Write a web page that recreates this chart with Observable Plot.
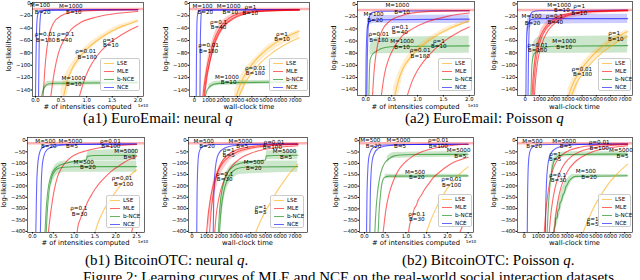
<!DOCTYPE html>
<html><head><meta charset="utf-8">
<script src="https://cdn.jsdelivr.net/npm/d3@7"></script>
<script src="https://cdn.jsdelivr.net/npm/@observablehq/plot@0.6"></script>
<style>
body{margin:0;background:#fff;}
#fig{position:relative;width:640px;height:280px;overflow:hidden;background:#fff;}
.ax{position:absolute;font-family:"DejaVu Sans";font-size:6.8px;white-space:nowrap;color:#000;transform:translate(-50%,-50%);}
.axy{transform:translate(-50%,-50%) rotate(-90deg);}
.exp{position:absolute;font-family:"DejaVu Sans";font-size:4.2px;white-space:nowrap;color:#000;transform:translate(-50%,-50%);}
.cap{position:absolute;font-family:"Liberation Serif";font-size:15px;line-height:15px;white-space:nowrap;color:#000;}
.leg{position:absolute;border:0.6px solid #ccc;border-radius:2px;background:rgba(255,255,255,0.8);box-sizing:border-box;padding-top:0.3px;}
.leg div{height:8px;position:relative;}
.leg .sw{position:absolute;left:2.5px;top:3.4px;width:10px;height:1.3px;}
.leg .tx{position:absolute;left:16px;top:0;font-family:"DejaVu Sans";font-size:5.6px;line-height:8px;white-space:nowrap;}
</style></head><body><div id="fig"></div>
<script>
// ---------------- data ----------------
const methods = ["LSE", "MLE", "b-NCE", "NCE"];
const methodColors = ["#ffa500", "#ff0000", "#008000", "#0000ff"];
const countTicksTop = [0, 0.5, 1, 1.5, 2];
const countTicksBottom = [0, 0.5, 1, 1.5, 2, 2.5];
const timeTicks = [0, 1000, 2000, 3000, 4000, 5000, 6000, 7000];
const yTicksTop = [0, -20, -40, -60, -80, -100, -120, -140];
const yTicksBottom = [0, -50, -100, -150, -200, -250, -300, -350, -400];
const yLabel = "log-likelihood";
const xLabels = ["# of intensities computed", "wall-clock time"];
const expLabel = "1e10";
const captions = ["(a1) EuroEmail: neural <i>q</i>", "(a2) EuroEmail: Poisson <i>q</i>", "(b1) BitcoinOTC: neural <i>q</i>.", "(b2) BitcoinOTC: Poisson <i>q</i>."];
const figCaption = "Figure 2: Learning curves of MLE and NCE on the real-world social interaction datasets.";

// curves: [method, id, xs, ys]; bands: [method, id, xs, lo, hi]; labels: [text, x, y]
const a1Count = [
 ["ref","r",[-0.06,2.11],[-9,-9]],
 ["NCE","a",[0.0,0.01,0.02,0.04,0.08,0.3,2.0],[-150,-90,-45,-20,-12,-10.5,-10]],
 ["NCE","b",[0.06,0.07,0.085,0.11,0.2,2.0],[-150,-80,-35,-15,-11,-10]],
 ["MLE","a",[0.15,0.18,0.22,0.27,0.35,0.5,0.8,1.3,2.0],[-150,-110,-75,-50,-32,-20,-13,-11,-10]],
 ["MLE","b",[0.3,0.37,0.45,0.55,0.7,0.9,1.2,1.6,2.0],[-150,-110,-80,-60,-42,-30,-22,-16,-13]],
 ["MLE","c",[0.86,0.95,1.05,1.2,1.4,1.6,1.8,2.0],[-150,-125,-105,-85,-67,-55,-45,-37]],
 ["LSE","a",[0.55,0.62,0.72,0.85,1.0,1.2,1.4,1.6,1.8,2.0],[-150,-125,-105,-88,-74,-60,-49,-40,-34,-28]],
 ["b-NCE","a",[0.12,0.15,0.2,0.27,0.4,2.0],[-150,-140,-133,-130,-129,-128]]
];
const a1CountBand = [
 ["LSE","a",[0.5,0.6,0.7,0.85,1.0,1.2,1.4,1.6,1.8,2.0],[-150,-150,-118,-96,-80,-65,-53,-44,-37,-31],[-138,-112,-98,-80,-68,-55,-45,-36,-31,-25]],
 ["b-NCE","a",[0.15,0.25,2.0],[-145,-134,-131],[-135,-126,-125]]
];
const a1CountLabels = [
 ["M=100",0.09,-3],["B=20",0.14,-14],["M=1000",0.69,-3.7],["B=10",0.75,-14],
 ["ρ=0.01",0.19,-50],["B=180",0.2,-59],["ρ=0.1",0.59,-50],["B=40",0.56,-59],
 ["ρ=0.01",0.98,-77],["B=180",1.01,-87],["ρ=1",1.43,-59],["B=10",1.47,-68],
 ["M=1000",0.74,-121],["B=10",0.75,-130]
];

const a1Time = [
 ["ref","r",[-350,8020],[-9,-9]],
 ["NCE","a",[120,135,160,200,300,600,7300],[-150,-90,-40,-20,-12,-10.5,-10]],
 ["NCE","b",[380,400,430,480,600,7300],[-150,-80,-35,-16,-11,-10]],
 ["MLE","a",[580,750,900,1100,1350,1700,2100,2700,3500,5000,7300],[-150,-120,-100,-80,-60,-42,-30,-20,-14,-11,-10]],
 ["MLE","b",[650,820,1000,1200,1450,1800,2300,2900,3800,5200,7300],[-150,-120,-100,-80,-60,-43,-30,-21,-15,-12,-10.5]],
 ["MLE","c",[700,900,1100,1350,1700,2100,2700,3500,4500,7300],[-150,-115,-92,-70,-50,-36,-25,-17,-13,-11]],
 ["b-NCE","a",[750,850,1000,1300,1800,2500,7300],[-150,-142,-136,-131,-129,-128,-127]],
 ["LSE","a",[2900,3300,3800,4400,5000,5700,6500,7300],[-150,-125,-105,-88,-75,-63,-53,-45]],
 ["LSE","b",[3100,3500,4000,4600,5300,6000,6700,7300],[-150,-130,-112,-96,-82,-71,-62,-56]]
];
const a1TimeBand = [
 ["LSE","a",[2800,3200,3800,4400,5000,5700,6500,7300],[-150,-150,-116,-98,-84,-72,-62,-56],[-140,-118,-98,-84,-70,-60,-50,-43]],
 ["b-NCE","a",[1000,1500,7300],[-140,-133,-130],[-131,-126,-124]],
 ["MLE","a",[600,900,1350,2100,3500,7300],[-150,-112,-70,-36,-18,-11],[-140,-92,-52,-25,-12,-9]]
];
const a1TimeLabels = [
 ["M=100",560,-3.7],["B=20",750,-14],["M=1000",2380,-3.7],["B=10",2490,-14],
 ["ρ=1",3890,-6],["B=10",3890,-15.5],["ρ=0.1",1680,-30],["B=40",1680,-38.5],
 ["ρ=0.01",980,-68],["B=180",980,-77],["ρ=1",6100,-49],["B=10",6100,-58],
 ["ρ=0.01",4240,-105],["B=180",4240,-113],["M=1000",2260,-119],["B=10",2380,-128]
];

const a2Count = [
 ["ref","r",[-0.16,2.1],[-9,-9]],
 ["NCE","a",[0.0,0.005,0.015,0.03,0.06,0.12,0.3,2.0],[-150,-100,-60,-38,-29,-26,-25,-24]],
 ["NCE","b",[0.02,0.03,0.045,0.07,0.12,0.3,2.0],[-150,-90,-40,-20,-13,-11,-10]],
 ["b-NCE","a",[0.06,0.07,0.085,0.12,0.2,0.35,0.6,2.0],[-150,-110,-90,-83,-77,-71,-69,-68]],
 ["MLE","a",[0.13,0.16,0.2,0.25,0.32,0.45,0.7,1.1,2.0],[-150,-110,-80,-58,-42,-28,-18,-12,-10]],
 ["MLE","b",[0.3,0.36,0.44,0.55,0.7,0.9,1.2,1.6,2.0],[-150,-115,-90,-70,-52,-40,-28,-19,-14]],
 ["MLE","c",[0.8,0.9,1.0,1.15,1.35,1.55,1.8,2.0],[-150,-125,-108,-90,-72,-58,-45,-37]],
 ["LSE","a",[0.56,0.63,0.72,0.85,1.0,1.2,1.4,1.6,1.8,2.0],[-150,-125,-105,-88,-74,-60,-49,-40,-33,-27]]
];
const a2CountBand = [
 ["NCE","a",[0.03,0.06,0.15,2.0],[-45,-35,-31,-31],[-30,-20,-18,-17]],
 ["b-NCE","a",[0.08,0.12,0.2,2.0],[-84,-82,-81,-80],[-70,-60,-54,-52]],
 ["LSE","a",[0.53,0.62,0.72,0.85,1.0,1.2,1.4,1.6,1.8,2.0],[-150,-150,-115,-95,-80,-65,-53,-44,-36,-30],[-138,-115,-96,-80,-68,-55,-45,-36,-30,-24]]
];
const a2CountLabels = [
 ["M=1000",0.61,-1.6],["B=10",0.7,-12.6],["M=100",0.15,-16.4],["B=20",0.18,-26],
 ["ρ=0.1",0.66,-37],["B=40",0.66,-46],["ρ=0.01",0.25,-48],["B=180",0.25,-58],
 ["M=1000",0.7,-60],["B=10",0.7,-70],["ρ=1",1.41,-60],["B=10",1.41,-68],
 ["ρ=0.01",1.05,-75],["B=180",1.05,-85]
];

const a2Time = [
 ["ref","r",[-540,7540],[-10,-10]],
 ["NCE","a",[50,70,100,150,250,500,1000,7200],[-150,-100,-60,-40,-30,-25,-24,-24]],
 ["NCE","b",[200,230,280,350,500,1000,7200],[-150,-90,-40,-20,-13,-11,-10]],
 ["b-NCE","a",[400,450,520,600,800,1200,2000,7200],[-150,-110,-90,-83,-78,-72,-69,-68]],
 ["MLE","a",[480,560,650,800,1000,1300,1700,2300,3200,4500,7200],[-150,-120,-97,-75,-57,-42,-30,-21,-15,-12,-10.5]],
 ["MLE","b",[560,640,740,900,1100,1400,1800,2400,3300,4600,7200],[-150,-120,-97,-75,-58,-43,-32,-23,-16,-12.5,-11]],
 ["MLE","c",[650,750,860,1050,1300,1650,2100,2800,3800,5200,7200],[-150,-118,-96,-75,-57,-42,-31,-21,-15,-12,-11]],
 ["LSE","a",[3050,3400,3900,4500,5200,5900,6600,7200],[-150,-128,-108,-90,-74,-62,-52,-45]],
 ["LSE","b",[3250,3600,4100,4700,5400,6100,6700,7200],[-150,-130,-112,-95,-80,-68,-59,-53]]
];
const a2TimeBand = [
 ["NCE","a",[100,150,300,700,7200],[-80,-55,-40,-33,-32],[-40,-28,-20,-17,-17]],
 ["b-NCE","a",[500,600,1000,7200],[-100,-84,-81,-80],[-80,-62,-54,-52]],
 ["LSE","a",[3000,3400,3900,4500,5200,5900,6600,7200],[-150,-150,-120,-100,-84,-72,-62,-57],[-140,-118,-100,-84,-70,-58,-48,-42]],
 ["MLE","a",[500,700,1000,1500,2500,7200],[-150,-100,-66,-45,-27,-12],[-135,-80,-50,-30,-18,-9]]
];
const a2TimeLabels = [
 ["M=1000",2390,-1.6],["B=10",2580,-10.9],["ρ=1",3790,-3.8],["B=10",3790,-14.7],
 ["M=100",445,-20.7],["B=20",515,-31.6],["ρ=0.1",2040,-20.7],["B=40",2110,-30],
 ["ρ=0.01",870,-68],["B=180",870,-76],["M=1000",2740,-61],["B=10",2740,-71],
 ["ρ=1",6250,-47],["B=10",6370,-57],["ρ=0.01",3980,-106],["B=180",4030,-115.5]
];

const b1Count = [
 ["ref","r",[-0.12,2.69],[-12,-12]],
 ["NCE","a",[0.08,0.09,0.1,0.12,0.15,0.2,0.3,0.5,1.0,2.5],[-405,-300,-200,-120,-70,-40,-25,-19,-17,-16]],
 ["NCE","b",[0.19,0.2,0.21,0.23,0.27,0.35,0.5,0.8,1.5,2.5],[-405,-300,-200,-120,-70,-40,-27,-20,-17,-16]],
 ["MLE","a",[0.38,0.45,0.52,0.6,0.7,0.85,1.0,1.3,1.7,2.1,2.5],[-405,-300,-220,-160,-120,-85,-65,-45,-30,-22,-18]],
 ["MLE","b",[1.07,1.1,1.15,1.2,1.25,1.28,1.32,1.4,1.5,1.6,1.75,1.9,2.05,2.2,2.35,2.5],[-405,-370,-345,-320,-300,-290,-272,-245,-215,-190,-160,-135,-115,-97,-82,-70]],
 ["MLE","c",[2.38,2.44,2.52],[-405,-360,-318]],
 ["LSE","a",[1.5,1.6,1.7,1.85,2.0,2.15,2.3,2.5],[-405,-350,-310,-265,-225,-190,-160,-130]],
 ["b-NCE","a",[0.33,0.36,0.4,0.45,0.52,0.6,0.75,1.0,2.5],[-405,-300,-220,-170,-140,-125,-118,-116,-115]],
 ["b-NCE","b",[0.3,0.33,0.37,0.42,0.5,0.6,0.8,1.0,1.2,1.29,1.32,1.5,2.5],[-405,-300,-220,-170,-135,-115,-100,-92,-88,-85,-70,-66,-65]]
];
const b1CountBand = [
 ["b-NCE","a",[0.45,0.6,0.8,2.5],[-200,-150,-140,-140],[-140,-100,-90,-90]],
 ["b-NCE","b",[1.3,1.35,2.5],[-88,-88,-88],[-70,-45,-40]]
];
const b1CountLabels = [
 ["M=500",0.31,-1.5],["B=20",0.39,-26],["M=5000",0.91,-1.5],["B=5",0.95,-26],
 ["ρ=0.01",1.87,-1.5],["B=100",1.88,-26],["M=5000",2.25,-47],["B=5",2.33,-72],
 ["M=500",1.23,-94],["B=20",1.33,-119],["ρ=0.01",2.15,-167],["B=100",2.19,-192],
 ["ρ=0.1",1.11,-299],["B=30",1.13,-324]
];

const b1Time = [
 ["ref","r",[-230,7860],[-12,-12]],
 ["NCE","a",[330,350,380,420,480,600,800,1200,2500,7200],[-405,-250,-150,-90,-55,-35,-25,-19,-17,-16]],
 ["NCE","b",[1450,1480,1530,1600,1700,1850,2100,2500,3200,4500,7200],[-405,-280,-180,-120,-80,-55,-38,-27,-20,-17,-16]],
 ["MLE","a",[1200,1300,1420,1550,1700,1900,2150,2500,3000,3700,4600,5800,7200],[-405,-320,-250,-195,-150,-112,-83,-60,-42,-30,-22,-17,-15]],
 ["MLE","b",[1000,1100,1250,1400,1600,1850,2150,2550,3100,3800,4700,5900,7200],[-405,-330,-260,-210,-165,-125,-95,-70,-50,-36,-27,-21,-18]],
 ["MLE","c",[1550,1650,1800,2000,2250,2550,2950,3450,4100,4900,5900,7200],[-405,-330,-265,-210,-165,-128,-97,-73,-54,-40,-30,-23]],
 ["b-NCE","a",[1880,1950,2050,2200,2400,2650,2950,3300,3800,7200],[-405,-330,-270,-215,-175,-145,-128,-120,-117,-115]],
 ["b-NCE","b",[1800,1870,1970,2150,2400,2800,3300,4000,4800,5000,5060,5600,7200],[-405,-320,-250,-190,-145,-115,-100,-92,-88,-86,-68,-66,-65]],
 ["LSE","a",[4330,4700,5100,5500,5900,6300,6700,7200],[-405,-350,-300,-255,-212,-175,-140,-104]]
];
const b1TimeBand = [
 ["b-NCE","a",[1950,2200,2650,3300,7200],[-400,-260,-180,-150,-140],[-270,-170,-110,-92,-90]],
 ["b-NCE","b",[5050,5100,7200],[-86,-85,-85],[-70,-45,-45]],
 ["MLE","a",[1100,1400,1800,2400,3300,4800,7200],[-405,-290,-180,-105,-60,-33,-20],[-350,-200,-120,-68,-40,-25,-14]]
];
const b1TimeLabels = [
 ["M=500",800,-1.5],["B=20",1025,-26],["M=5000",3300,-1.5],["B=5",3420,-26],
 ["ρ=0.01",5580,-6],["B=100",5470,-31],["ρ=1",2500,-41],["B=5",2500,-64.5],
 ["M=5000",6300,-47],["B=5",6400,-72],["M=500",4210,-97],["B=20",4210,-123],
 ["ρ=0.1",2230,-150],["B=30",2230,-170],["ρ=1",4670,-292],["B=5",4670,-317]
];

const b2Count = [
 ["ref","r",[-0.12,2.63],[-11,-11]],
 ["NCE","a",[0.05,0.06,0.08,0.1,0.14,0.2,0.3,0.5,1.0,2.5],[-404,-250,-130,-80,-50,-32,-23,-19,-17,-16]],
 ["NCE","b",[0.13,0.14,0.16,0.19,0.24,0.32,0.45,0.7,1.2,2.5],[-404,-250,-140,-85,-55,-36,-26,-20,-17,-16]],
 ["b-NCE","a",[0.25,0.28,0.32,0.37,0.43,0.5,0.6,0.7,0.85,1.2,2.5],[-404,-300,-220,-160,-120,-95,-78,-68,-63,-61,-60]],
 ["b-NCE","b",[0.33,0.35,0.38,0.41,0.45,0.5,0.6,2.5],[-404,-320,-250,-200,-170,-160,-156,-155]],
 ["MLE","a",[0.45,0.52,0.6,0.7,0.82,0.95,1.15,1.4,1.7,2.0,2.5],[-404,-300,-230,-175,-130,-100,-70,-48,-32,-23,-16]],
 ["MLE","b",[1.06,1.09,1.12,1.16,1.2,1.25,1.3,1.37,1.45,1.55,1.65,1.8,1.95,2.1,2.3,2.5],[-404,-370,-350,-330,-300,-285,-260,-240,-215,-190,-165,-140,-118,-100,-85,-73]],
 ["MLE","c",[2.3,2.4,2.5],[-404,-360,-318]],
 ["LSE","a",[1.49,1.6,1.72,1.85,2.0,2.15,2.3,2.5],[-404,-350,-300,-255,-210,-175,-145,-115]]
];
const b2CountBand = [
 ["b-NCE","a",[0.55,0.7,2.5],[-100,-78,-72],[-70,-52,-48]],
 ["b-NCE","b",[0.5,2.5],[-168,-162],[-148,-148]]
];
const b2CountLabels = [
 ["M=500",0.14,0],["B=20",0.22,-25],["M=5000",0.82,0],["B=5",0.86,-25],
 ["ρ=0.01",1.78,0],["B=100",1.78,-25],["M=5000",2.27,-44],["B=5",2.31,-69],
 ["M=500",1.22,-137],["B=20",1.26,-162],["ρ=0.01",2.1,-169],["B=100",2.1,-194],
 ["ρ=0.1",1.26,-324],["B=30",1.26,-346]
];

const b2Time = [
 ["ref","r",[-460,7540],[-12,-12]],
 ["NCE","a",[220,240,270,310,380,500,700,1100,2500,7200],[-405,-250,-150,-90,-55,-35,-25,-19,-17,-16]],
 ["NCE","b",[1480,1510,1560,1630,1730,1880,2130,2530,3230,4500,7200],[-405,-280,-180,-120,-80,-55,-38,-27,-20,-17,-16]],
 ["MLE","a",[1400,1500,1620,1750,1900,2100,2350,2700,3200,3900,4800,6000,7200],[-405,-320,-250,-195,-150,-112,-83,-60,-42,-30,-22,-17,-15]],
 ["MLE","b",[1750,1850,2000,2150,2350,2600,2900,3300,3850,4550,5400,6300,7200],[-405,-330,-260,-210,-165,-125,-95,-70,-50,-36,-27,-21,-18]],
 ["MLE","c",[2100,2200,2350,2550,2800,3100,3500,4000,4600,5300,6200,7200],[-405,-330,-265,-210,-165,-128,-97,-73,-54,-40,-30,-23]],
 ["b-NCE","a",[1600,1680,1780,1900,2050,2250,2500,3000,7200],[-405,-300,-210,-140,-95,-75,-66,-62,-60]],
 ["b-NCE","b",[2050,2100,2150,2200,2300,2350,2450,2500,2600,2700,2800,2900,3000,3100,3250,3400,3600,7200],[-405,-380,-380,-345,-340,-310,-300,-275,-265,-240,-230,-205,-195,-180,-170,-162,-158,-155]],
 ["LSE","a",[4100,4450,4800,5200,5600,6000,6500,7200],[-405,-350,-300,-255,-215,-180,-145,-104]]
];
const b2TimeBand = [
 ["b-NCE","a",[1900,2250,3000,7200],[-170,-90,-72,-72],[-110,-60,-50,-50]],
 ["b-NCE","b",[2100,2400,2700,3000,3400,3700,7200],[-405,-350,-270,-220,-175,-165,-162],[-350,-270,-205,-170,-150,-150,-150]]
];
const b2TimeLabels = [
 ["M=500",580,-1.5],["B=20",700,-26],["M=5000",2780,-1.5],["B=5",2900,-26],
 ["ρ=0.01",5220,-9],["B=100",5220,-35],["M=5000",6730,-45],["B=5",6840,-70],
 ["ρ=1",2160,-59],["B=5",2160,-84],["ρ=0.1",2320,-152],["B=30",2390,-175],
 ["M=500",4290,-136],["B=20",4520,-161],["ρ=1",4760,-346],["B=5",4760,-370]
];

// ---------------- drawing ----------------
const fig = document.getElementById("fig");
const colorOf = Object.fromEntries(methods.map((m, i) => [m, methodColors[i]]));
const lineRows = c => c.flatMap(([m, id, xs, ys]) => xs.map((x, i) => ({m, k: m + id, x, y: ys[i]})));
const bandRows = b => b.flatMap(([m, id, xs, lo, hi]) => xs.map((x, i) => ({m, k: m + id, x, lo: lo[i], hi: hi[i]})));
const fmtCount = d3.format(".1f"), fmtInt = d3.format("d");

const top1 = {top: 0, h: 112, xlY: 107, expY: 104.5};
const top2 = {top: 134, h: 112, xlY: 243, expY: 241};
const panels = [
 {curves: a1Count, bands: a1CountBand, labels: a1CountLabels, row: top1, left: 0, mL: 32, mR: 17, mT: 2, mB: 16, xd: [-0.058, 2.11], yd: [-150.5, 1.5], xt: countTicksTop, xf: fmtCount, yt: yTicksTop, xl: 0, exp: [143], leg: [100, 58, 40]},
 {curves: a1Time, bands: a1TimeBand, labels: a1TimeLabels, row: top1, left: 160, mL: 29, mR: 11, mT: 2, mB: 16, xd: [-350, 8020], yd: [-150.5, 1.5], xt: timeTicks, xf: fmtInt, yt: yTicksTop, xl: 1, leg: [269, 58, 39]},
 {curves: a2Count, bands: a2CountBand, labels: a2CountLabels, row: top1, left: 320, mL: 37, mR: 6, mT: 1, mB: 17, xd: [-0.16, 2.1], yd: [-149.5, 5], xt: countTicksTop, xf: fmtCount, yt: yTicksTop, xl: 0, exp: [473], leg: [438, 58, 34]},
 {curves: a2Time, bands: a2TimeBand, labels: a2TimeLabels, row: top1, left: 480, mL: 37, mR: 8, mT: 1, mB: 17, xd: [-540, 7540], yd: [-149.5, 4], xt: timeTicks, xf: fmtInt, yt: yTicksTop, xl: 1, leg: [598, 58, 33]},
 {curves: b1Count, bands: b1CountBand, labels: b1CountLabels, row: top2, left: 0, mL: 27, mR: 16, mT: 3, mB: 14, xd: [-0.12, 2.69], yd: [-405, 13], xt: countTicksBottom, xf: fmtCount, yt: yTicksBottom, xl: 0, exp: [143], leg: [106, 195, 34]},
 {curves: b1Time, bands: b1TimeBand, labels: b1TimeLabels, row: top2, left: 160, mL: 28, mR: 13, mT: 3, mB: 14, xd: [-230, 7860], yd: [-405, 13], xt: timeTicks, xf: fmtInt, yt: yTicksBottom, xl: 1, leg: [270, 195, 34]},
 {curves: b2Count, bands: b2CountBand, labels: b2CountLabels, row: top2, left: 320, mL: 39, mR: 7, mT: 3, mB: 14, xd: [-0.12, 2.63], yd: [-404, 14], xt: countTicksBottom, xf: fmtCount, yt: yTicksBottom, xl: 0, exp: [471], leg: [438, 194, 34]},
 {curves: b2Time, bands: b2TimeBand, labels: b2TimeLabels, row: top2, left: 480, mL: 37, mR: 8, mT: 3, mB: 14, xd: [-460, 7540], yd: [-405, 13], xt: timeTicks, xf: fmtInt, yt: yTicksBottom, xl: 1, leg: [598, 194, 33]}
];

function addDiv(cls, html, x, y) {
  const d = document.createElement("div");
  d.className = cls; d.innerHTML = html;
  d.style.left = x + "px"; d.style.top = y + "px";
  fig.appendChild(d); return d;
}

for (const p of panels) {
  const W = 160, H = p.row.h;
  const all = lineRows(p.curves);
  const ref = all.filter(d => d.m === "ref");
  const cur = all.filter(d => d.m !== "ref");
  const svg = Plot.plot({
    width: W, height: H,
    marginLeft: p.mL, marginRight: p.mR, marginTop: p.mT, marginBottom: p.mB,
    style: {fontFamily: "DejaVu Sans", fontSize: "5.3px", background: "transparent", overflow: "visible"},
    x: {domain: p.xd},
    y: {domain: p.yd},
    color: {domain: methods, range: methodColors},
    marks: [
      Plot.areaY(bandRows(p.bands), {x: "x", y1: "lo", y2: "hi", z: "k", fill: "m", fillOpacity: 0.2, curve: "monotone-x", clip: true}),
      Plot.line(ref, {x: "x", y: "y", stroke: colorOf.MLE, strokeOpacity: 0.3, strokeWidth: 2.5, clip: true}),
      Plot.line(cur, {x: "x", y: "y", z: "k", stroke: "m", strokeOpacity: 0.6, strokeWidth: 1.1, curve: "monotone-x", clip: true}),
      Plot.text(p.labels, {x: d => d[1], y: d => d[2], text: d => d[0], fontSize: 5.6, fill: "black"}),
      Plot.frame({stroke: "black", strokeWidth: 0.6}),
      Plot.axisX({ticks: p.xt, tickFormat: p.xf, tickSize: 1.5, tickPadding: 0.5, label: null}),
      Plot.axisY({ticks: p.yt, tickFormat: fmtInt, tickSize: 1.5, tickPadding: 0.5, label: null})
    ]
  });
  svg.style.position = "absolute";
  svg.style.left = p.left + "px";
  svg.style.top = p.row.top + "px";
  fig.appendChild(svg);

  const fL = p.left + p.mL, fR = p.left + W - p.mR;
  const fT = p.row.top + p.mT, fB = p.row.top + H - p.mB;
  addDiv("ax axy", yLabel, fL - 23, (fT + fB) / 2);
  addDiv("ax", xLabels[p.xl], (fL + fR) / 2, p.row.xlY);
  if (p.exp) addDiv("exp", expLabel, p.exp[0], p.row.expY);

  const lg = document.createElement("div");
  lg.className = "leg";
  lg.style.left = p.leg[0] + "px"; lg.style.top = p.leg[1] + "px";
  lg.style.width = p.leg[2] + "px"; lg.style.height = "33px";
  for (const m of methods) {
    const r = document.createElement("div");
    r.innerHTML = `<span class="sw" style="background:${colorOf[m]};opacity:0.6"></span><span class="tx">${m}</span>`;
    lg.appendChild(r);
  }
  fig.appendChild(lg);
}

addDiv("cap", captions[0], 83, 111);
addDiv("cap", captions[1], 405, 111);
addDiv("cap", captions[2], 85, 253);
addDiv("cap", captions[3], 402, 253);
addDiv("cap", figCaption, 83, 270);
</script></body></html>
